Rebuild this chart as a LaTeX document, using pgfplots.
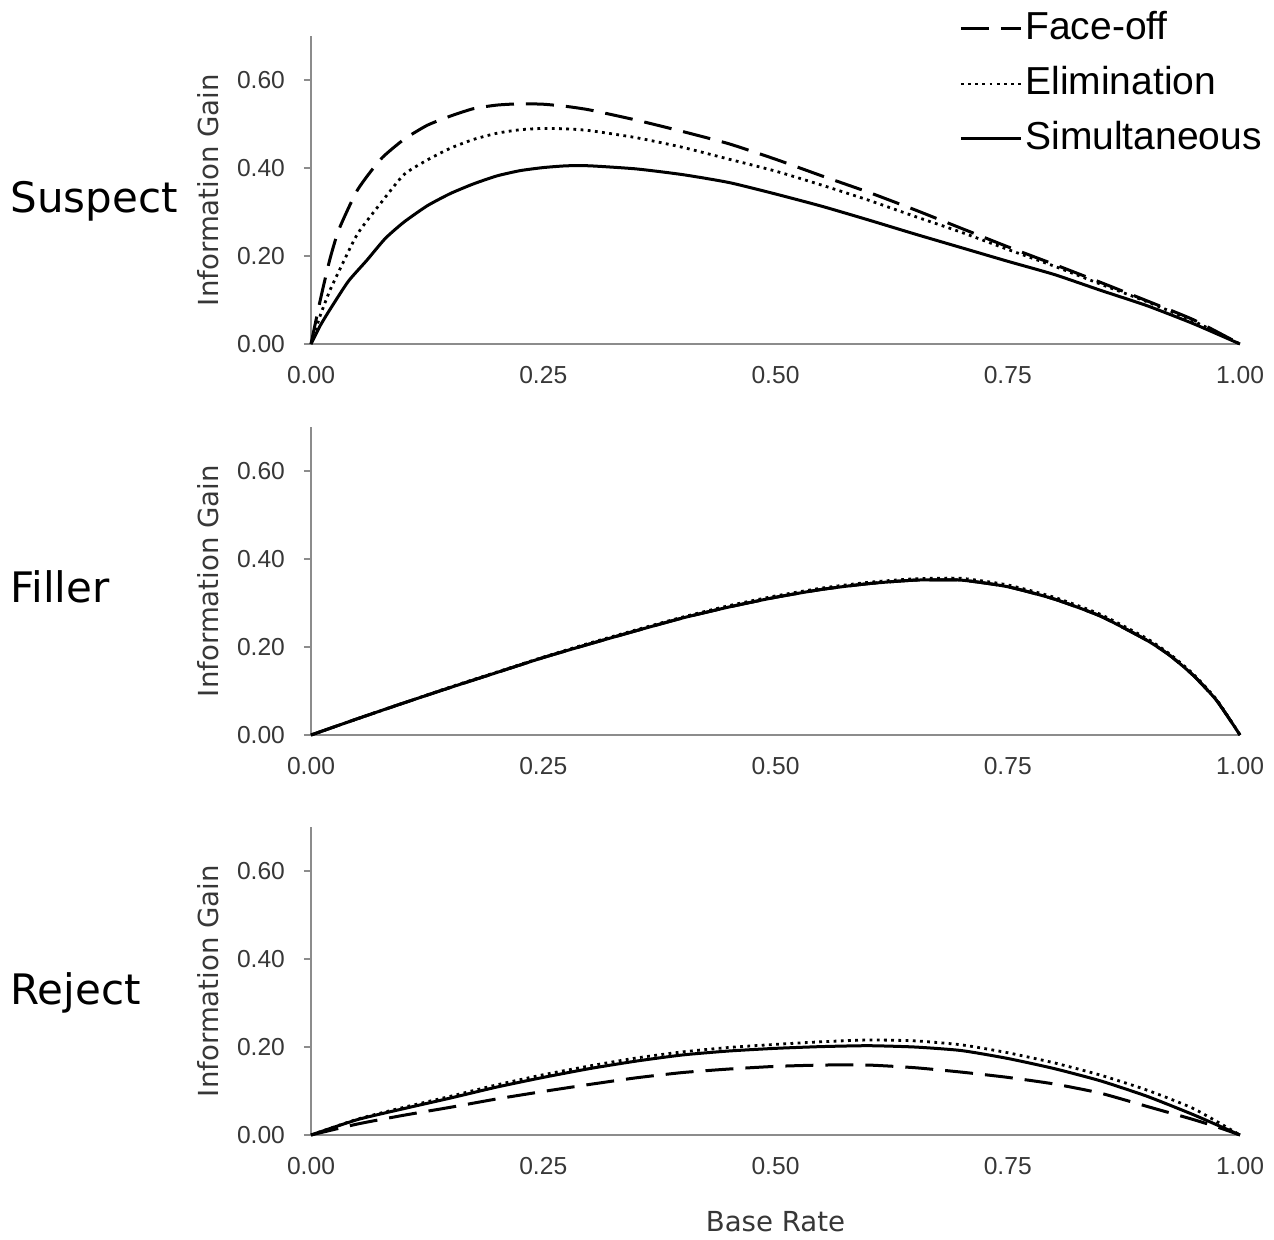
\documentclass[border=0pt]{standalone}
\usepackage{fontspec}
\setmainfont{Liberation Sans}
\newfontfamily\dejavu{DejaVu Sans}
\usepackage{pgfplots}
\pgfplotsset{compat=1.18}

\definecolor{axgray}{RGB}{140,140,140}
\definecolor{lblgray}{RGB}{55,55,55}

\tikzset{rowlbl/.style={anchor=west, inner sep=0pt, font=\dejavu\fontsize{21}{24}\selectfont}}

\pgfplotsset{
  igpanel/.style={
    scale only axis, width=464.5pt, height=154pt,
    xmin=0, xmax=1, ymin=0, ymax=0.7,
    axis x line=bottom, axis y line=left,
    axis line style={-, draw=axgray, line width=0.8pt},
    xtick={0,0.25,0.5,0.75,1}, ytick={0,0.2,0.4,0.6},
    x tick style={draw=none},
    y tick style={draw=axgray, line width=0.8pt},
    tick align=outside, major tick length=3.5pt,
    /pgf/number format/fixed,
    /pgf/number format/fixed zerofill,
    /pgf/number format/precision=2,
    /pgf/number format/assume math mode=true,
    xticklabel style={font=\fontsize{12.3}{14}\selectfont, text=lblgray, yshift=-4pt},
    yticklabel style={font=\fontsize{12.3}{14}\selectfont, text=lblgray, xshift=-6pt},
    ylabel={Information Gain},
    ylabel style={font=\dejavu\fontsize{13.8}{16}\selectfont, text=lblgray,
                  at={(axis description cs:-0.111,0.5)}, anchor=center},
    clip=false,
  },
  faceoff/.style={black, line width=1.5pt, dash pattern=on 14pt off 6pt, smooth, tension=0.35},
  elim/.style={black, line width=1.4pt, dash pattern=on 1.4pt off 2.2pt, smooth, tension=0.35},
  simul/.style={black, line width=1.5pt, smooth, tension=0.35},
}

\begin{document}
\begin{tikzpicture}
\useasboundingbox (-155.5pt,-447.5pt) rectangle (481.5pt,172pt);

% ---- Suspect
\begin{axis}[igpanel, at={(0pt,0pt)}, anchor=south west,
    legend style={at={(axis description cs:1.027,1.094)}, anchor=north east,
                  draw=none, fill=none, inner sep=0pt, row sep=6pt,
                  font=\fontsize{19.5}{22}\selectfont,
                  nodes={inner sep=1.5pt, text height=14.5pt, text depth=4pt}},
    legend cell align=left,
    legend image code/.code={\draw[#1, sharp plot] (0pt,0pt) -- (30pt,0pt);},
  ]
  \addplot[faceoff] coordinates {
    (0,0) (0.01,0.10) (0.02,0.19) (0.03,0.26) (0.05,0.35) (0.075,0.42)
    (0.10,0.465) (0.125,0.497) (0.15,0.518) (0.175,0.535) (0.20,0.543)
    (0.225,0.546) (0.25,0.545) (0.275,0.540) (0.30,0.532) (0.35,0.509)
    (0.40,0.483) (0.45,0.455) (0.50,0.420) (0.55,0.382) (0.60,0.345)
    (0.65,0.305) (0.70,0.263) (0.75,0.221) (0.80,0.181) (0.85,0.140)
    (0.90,0.098) (0.95,0.055) (1.0,0)
  };
  \addplot[elim] coordinates {
    (0,0) (0.01,0.065) (0.02,0.12) (0.03,0.165) (0.05,0.25) (0.075,0.32)
    (0.10,0.385) (0.125,0.418) (0.15,0.445) (0.175,0.465) (0.20,0.479)
    (0.225,0.487) (0.25,0.490) (0.275,0.489) (0.30,0.485) (0.35,0.469)
    (0.40,0.447) (0.45,0.420) (0.50,0.393) (0.55,0.361) (0.60,0.327)
    (0.65,0.290) (0.70,0.254) (0.75,0.215) (0.80,0.177) (0.85,0.136)
    (0.90,0.096) (0.95,0.052) (1.0,0)
  };
  \addplot[simul] coordinates {
    (0,0) (0.01,0.042) (0.02,0.077) (0.04,0.142) (0.06,0.19) (0.08,0.24)
    (0.10,0.277) (0.125,0.314) (0.15,0.342) (0.175,0.364) (0.20,0.382)
    (0.225,0.394) (0.25,0.401) (0.275,0.405) (0.30,0.405) (0.35,0.398)
    (0.40,0.385) (0.45,0.367) (0.50,0.341) (0.55,0.313) (0.60,0.282)
    (0.65,0.250) (0.70,0.219) (0.75,0.188) (0.80,0.158) (0.85,0.122)
    (0.90,0.087) (0.95,0.046) (1.0,0)
  };
  \legend{Face-off, Elimination, Simultaneous}
  \node[rowlbl] at (axis description cs:-0.324,0.462) {Suspect};
\end{axis}

% ---- Filler
\begin{axis}[igpanel, at={(0pt,-195.5pt)}, anchor=south west]
  \addplot[faceoff] coordinates {
    (0,0) (0.05,0.037) (0.10,0.073) (0.15,0.108) (0.20,0.142) (0.25,0.176)
    (0.30,0.207) (0.35,0.237) (0.40,0.266) (0.45,0.291) (0.50,0.313)
    (0.55,0.331) (0.60,0.344) (0.65,0.352) (0.70,0.352) (0.75,0.337)
    (0.80,0.309) (0.85,0.270) (0.90,0.215) (0.925,0.180) (0.95,0.135)
    (0.975,0.078) (1.0,0)
  };
  \addplot[elim] coordinates {
    (0,0) (0.05,0.037) (0.10,0.073) (0.15,0.109) (0.20,0.143) (0.25,0.177)
    (0.30,0.209) (0.35,0.239) (0.40,0.268) (0.45,0.294) (0.50,0.316)
    (0.55,0.334) (0.60,0.347) (0.65,0.355) (0.70,0.356) (0.75,0.341)
    (0.80,0.313) (0.85,0.274) (0.90,0.219) (0.925,0.183) (0.95,0.138)
    (0.975,0.080) (1.0,0)
  };
  \addplot[simul] coordinates {
    (0,0) (0.05,0.037) (0.10,0.073) (0.15,0.108) (0.20,0.142) (0.25,0.176)
    (0.30,0.207) (0.35,0.237) (0.40,0.266) (0.45,0.291) (0.50,0.313)
    (0.55,0.331) (0.60,0.344) (0.65,0.352) (0.70,0.352) (0.75,0.337)
    (0.80,0.309) (0.85,0.270) (0.90,0.215) (0.925,0.180) (0.95,0.135)
    (0.975,0.078) (1.0,0)
  };
  \node[rowlbl] at (axis description cs:-0.324,0.48) {Filler};
\end{axis}

% ---- Reject
\begin{axis}[igpanel, at={(0pt,-395.5pt)}, anchor=south west,
    xlabel={Base Rate},
    xlabel style={font=\dejavu\fontsize{13.8}{16}\selectfont, text=lblgray,
                  at={(axis description cs:0.5,-0.2825)}, anchor=center},
  ]
  \addplot[faceoff] coordinates {
    (0,0) (0.05,0.025) (0.10,0.045) (0.15,0.063) (0.20,0.082) (0.25,0.099)
    (0.30,0.115) (0.35,0.130) (0.40,0.142) (0.45,0.150) (0.50,0.156)
    (0.55,0.159) (0.60,0.159) (0.65,0.153) (0.70,0.143) (0.75,0.131)
    (0.80,0.116) (0.85,0.095) (0.90,0.065) (0.95,0.035) (0.98,0.015) (1.0,0)
  };
  \addplot[elim] coordinates {
    (0,0) (0.05,0.036) (0.10,0.063) (0.15,0.088) (0.20,0.114) (0.25,0.137)
    (0.30,0.157) (0.35,0.175) (0.40,0.189) (0.45,0.199) (0.50,0.206)
    (0.55,0.212) (0.60,0.216) (0.65,0.214) (0.70,0.205) (0.75,0.187)
    (0.80,0.164) (0.85,0.136) (0.90,0.102) (0.95,0.060) (1.0,0)
  };
  \addplot[simul] coordinates {
    (0,0) (0.05,0.035) (0.10,0.060) (0.15,0.084) (0.20,0.109) (0.25,0.131)
    (0.30,0.151) (0.35,0.168) (0.40,0.182) (0.45,0.191) (0.50,0.197)
    (0.55,0.201) (0.60,0.203) (0.65,0.200) (0.70,0.192) (0.75,0.174)
    (0.80,0.151) (0.85,0.123) (0.90,0.088) (0.95,0.046) (1.0,0)
  };
  \node[rowlbl] at (axis description cs:-0.324,0.462) {Reject};
\end{axis}
\end{tikzpicture}
\end{document}
